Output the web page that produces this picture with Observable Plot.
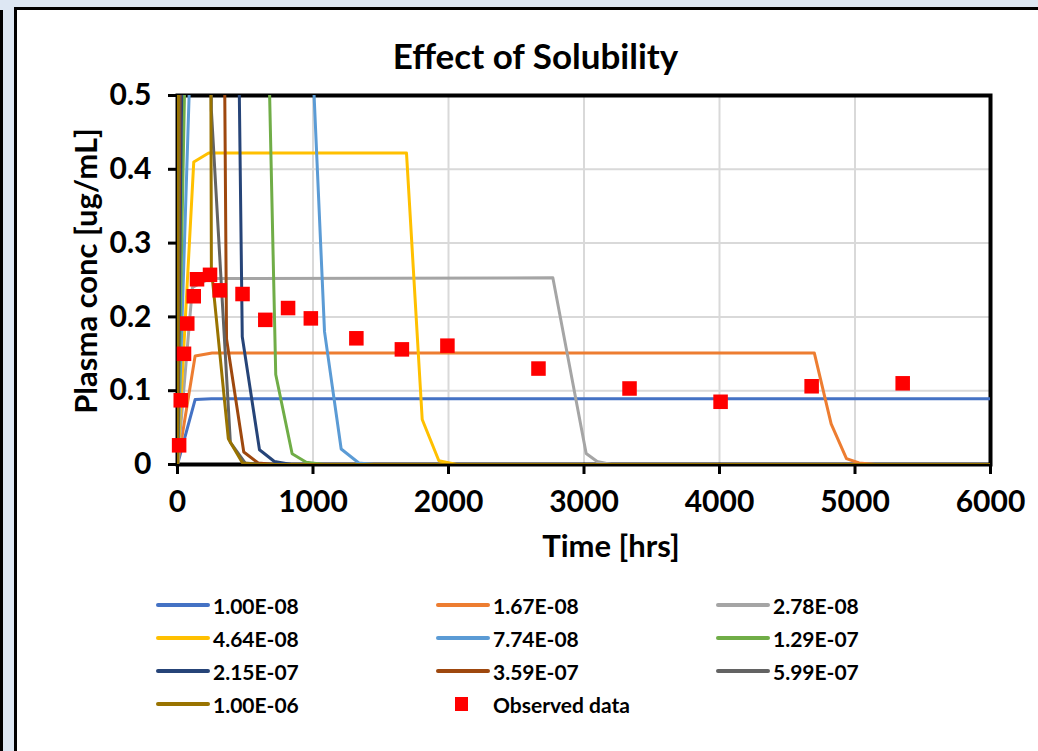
<!DOCTYPE html>
<html><head><meta charset="utf-8">
<script src="https://cdn.jsdelivr.net/npm/d3@7"></script>
<script src="https://cdn.jsdelivr.net/npm/@observablehq/plot@0.6"></script>
<style>
html,body{margin:0;padding:0;}
body{width:1038px;height:751px;background:#dde7f3;position:relative;overflow:hidden;font-family:Lato,"Open Sans",sans-serif;}
#bar{position:absolute;left:0;top:10px;width:3px;height:745px;background:#000;}
#card{position:absolute;left:14px;top:7px;width:1040px;height:760px;background:#fff;border:3px solid #000;box-sizing:border-box;}
#title{position:absolute;left:0;width:1071px;top:34px;line-height:42px;text-align:center;font-weight:bold;font-size:35px;color:#000;}
#chart{position:absolute;left:0;top:0;}
.li{position:absolute;height:26px;display:flex;align-items:center;font-weight:bold;font-size:21px;color:#000;white-space:nowrap;}
.ln{display:inline-block;width:54px;height:4px;border-radius:2px;margin-right:3px;}
.sq{display:inline-block;width:13px;height:14px;background:#ff0000;margin-left:19px;margin-right:25px;}
</style></head>
<body>
<div id="bar"></div>
<div id="card"></div>
<div id="title">Effect of Solubility</div>
<div id="chart"></div>
<div id="legend"></div>
<script>
// ---- data ----
const seriesNames = ["1.00E-08","1.67E-08","2.78E-08","4.64E-08","7.74E-08","1.29E-07","2.15E-07","3.59E-07","5.99E-07","1.00E-06"];
const seriesColors = ["#4472C4","#ED7D31","#A5A5A5","#FFC000","#5B9BD5","#70AD47","#264478","#9E480E","#636363","#997300"];

const t_100E08 = [0,130,250,6000];
const c_100E08 = [0,0.088,0.089,0.089];
const t_167E08 = [0,130,255,4700,4824,4937,5030,5150,6000];
const c_167E08 = [0,0.147,0.151,0.151,0.055,0.008,0.002,0,0];
const t_278E08 = [0,110,240,2770,3016,3097,3200,6000];
const c_278E08 = [0,0.240,0.252,0.253,0.015,0.004,0,0];
const t_464E08 = [0,120,230,1690,1806,1929,2060,6000];
const c_464E08 = [0,0.410,0.422,0.422,0.061,0.005,0,0];
const t_774E08 = [0,120,960,1085,1208,1338,1450,6000];
const c_774E08 = [0,0.70,0.70,0.18,0.021,0.002,0,0];
const t_129E07 = [0,120,600,725,846,950,1080,6000];
const c_129E07 = [0,1.17,1.17,0.122,0.0145,0.003,0,0];
const t_215E07 = [0,120,360,478,605,715,840,6000];
const c_215E07 = [0,1.95,1.95,0.173,0.020,0.004,0,0];
const t_359E07 = [0,120,240,362,489,595,720,6000];
const c_359E07 = [0,3.25,3.25,0.17,0.017,0.002,0,0];
const t_599E07 = [0,120,250,390,500,620,6000];
const c_599E07 = [0,5.4,0.48,0.03,0.002,0,0];
const t_100E06 = [0,120,250,375,480,600,6000];
const c_100E06 = [0,9.05,0.265,0.035,0.002,0,0];

const obsName = "Observed data";
const obsT = [12,24,48,72,120,144,240,312,480,648,816,984,1320,1656,1992,2664,3336,4008,4680,5352];
const obsC = [0.026,0.087,0.150,0.191,0.228,0.251,0.257,0.236,0.231,0.196,0.212,0.198,0.171,0.156,0.161,0.130,0.103,0.085,0.106,0.110];

const xTicks = [0,1000,2000,3000,4000,5000,6000];
const yTicks = [0,0.1,0.2,0.3,0.4,0.5];
const xLabel = "Time [hrs]";
const yLabel = "Plasma conc [ug/mL]";

// ---- build tables ----
const seriesT = [t_100E08,t_167E08,t_278E08,t_464E08,t_774E08,t_129E07,t_215E07,t_359E07,t_599E07,t_100E06];
const seriesC = [c_100E08,c_167E08,c_278E08,c_464E08,c_774E08,c_129E07,c_215E07,c_359E07,c_599E07,c_100E06];
const lineData = [];
seriesNames.forEach((s,i)=>seriesT[i].forEach((t,j)=>lineData.push({s, t, c: seriesC[i][j]})));
const obs = obsT.map((t,i)=>({t, c: obsC[i]}));

const W = 1038, H = 600;
const chart = Plot.plot({
  width: W, height: H,
  marginLeft: 177, marginRight: 48, marginTop: 95, marginBottom: H - 464,
  style: {fontFamily: "Lato, 'Open Sans', sans-serif", fontSize: "30px", fontWeight: "bold", color: "#000", background: "transparent", overflow: "visible"},
  x: {domain: [0, 6000]},
  y: {domain: [0, 0.5]},
  color: {domain: seriesNames, range: seriesColors},
  marks: [
    Plot.gridX(xTicks.slice(1), {stroke: "#d9d9d9", strokeOpacity: 1, strokeWidth: 2}),
    Plot.gridY(yTicks.slice(1), {stroke: "#d9d9d9", strokeOpacity: 1, strokeWidth: 2}),
    Plot.axisX(xTicks, {tickSize: 10, tickPadding: 16, strokeWidth: 3, tickFormat: d => String(d), label: null}),
    Plot.axisY(yTicks, {tickSize: 9, tickPadding: 17, strokeWidth: 3, tickFormat: d => String(d), label: null}),
    Plot.frame({stroke: "#000", strokeWidth: 4}),
    Plot.line(lineData, {x: "t", y: "c", z: "s", stroke: "s", strokeWidth: 3, clip: true, strokeLinejoin: "round"}),
    Plot.dot(obs, {x: "t", y: "c", symbol: "square", r: 8.2, fill: "#ff0000", stroke: null}),
    Plot.text([xLabel], {text: d => d, frameAnchor: "bottom", textAnchor: "middle", dx: 27, dy: 92, fontSize: 31}),
    Plot.text([yLabel], {text: d => d, frameAnchor: "left", textAnchor: "middle", rotate: -90, dx: -90, dy: -9, fontSize: 31})
  ]
});
document.getElementById("chart").appendChild(chart);

// ---- legend ----
const legend = document.getElementById("legend");
const colX = [156, 436, 716];
const rowY = [605, 638, 671, 704];
const items = seriesNames.map((s,i)=>({name: s, color: seriesColors[i]})).concat([{name: obsName, obs: true}]);
items.forEach((it, i) => {
  const div = document.createElement("div");
  div.className = "li";
  div.style.left = colX[i % 3] + "px";
  div.style.top = (rowY[Math.floor(i / 3)] - 13) + "px";
  const sw = document.createElement("span");
  if (it.obs) { sw.className = "sq"; }
  else { sw.className = "ln"; sw.style.background = it.color; }
  div.appendChild(sw);
  const tx = document.createElement("span");
  tx.textContent = it.name;
  div.appendChild(tx);
  legend.appendChild(div);
});
</script>
</body></html>
